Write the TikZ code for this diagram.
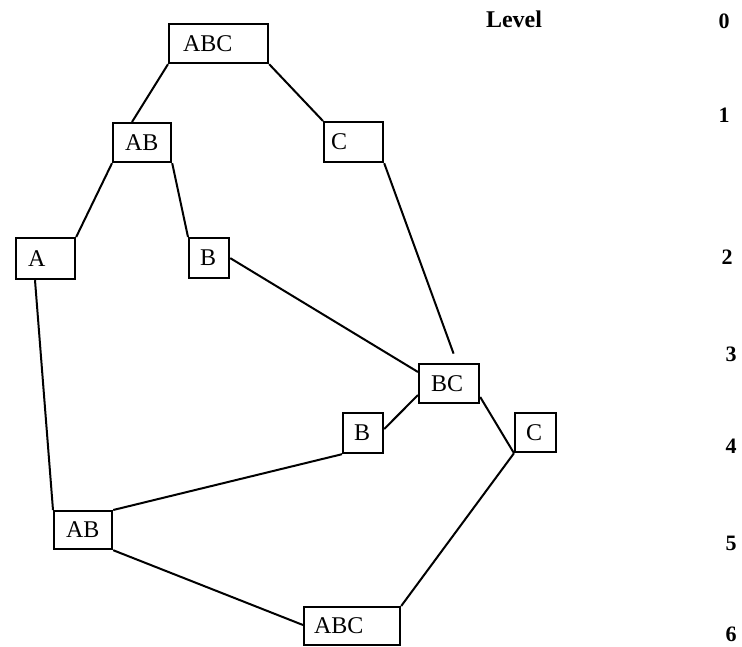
\documentclass[tikz,border=0pt]{standalone}
\usepackage{fontspec}
\setmainfont{Liberation Serif}
\usetikzlibrary{calc}
\tikzset{
  box/.style={draw, line width=2.2pt, inner ysep=0pt, anchor=north west,
              align=left, font=\fontsize{24}{24}\selectfont},
  link/.style={line width=2pt},
  lvl/.style={font=\fontsize{22}{22}\selectfont\bfseries, inner sep=0pt},
}
\begin{document}
\begin{tikzpicture}[x=1pt,y=-1pt]
\useasboundingbox (0,0) rectangle (742,646);

% level 0
\node[box, minimum height=39, text width=71, inner xsep=14] (abc1) at (168,23) {ABC};
% level 1
\node[box, minimum height=39, text width=34, inner xsep=12] (ab1) at (112,122) {AB};
\node[box, minimum height=40, text width=45, inner xsep=7] (c1) at (323,121) {C};
% level 2
\node[box, minimum height=41, text width=35, inner xsep=12] (a1) at (15,237) {A};
\node[box, minimum height=40, text width=18, inner xsep=11] (b1) at (188,237) {B};
% level 3
\node[box, minimum height=39, text width=36, inner xsep=12] (bc) at (418,363) {BC};
% level 4
\node[box, minimum height=40, text width=18, inner xsep=11] (b2) at (342,412) {B};
\node[box, minimum height=39, text width=19, inner xsep=11] (c2) at (514,412) {C};
% level 5
\node[box, minimum height=38, text width=34, inner xsep=12] (ab2) at (53,510) {AB};
% level 6
\node[box, minimum height=38, text width=76, inner xsep=10] (abc2) at (303,606) {ABC};

% connectors
\draw[link] (abc1.south west) -- ($(ab1.north west)+(20,0)$);
\draw[link] (abc1.south east) -- (c1.north west);
\draw[link] (ab1.south west) -- (a1.north east);
\draw[link] (ab1.south east) -- (b1.north west);
\draw[link] (b1.east) -- ($(bc.north west)+(0,9)$);
\draw[link, shorten >=10pt] (c1.south east) -- ($(bc.north west)+(39,0)$);
\draw[link] ($(bc.north west)+(0,32)$) -- ($(b2.north east)+(0,17)$);
\draw[link] ($(bc.north east)+(0,34)$) -- (c2.south west);
\draw[link] (b2.south west) -- (ab2.north east);
\draw[link] ($(a1.south west)+(20,0)$) -- (ab2.north west);
\draw[link] (ab2.south east) -- ($(abc2.north west)+(0,19)$);
\draw[link] (c2.south west) -- (abc2.north east);

% level scale
\node[lvl, font=\fontsize{24}{24}\selectfont\bfseries] (lvlhead) at (514,19) {Level};
\node[lvl] (l0) at (724,21) {0};
\node[lvl] (l1) at (724,115) {1};
\node[lvl] (l2) at (727,257) {2};
\node[lvl] (l3) at (731,354) {3};
\node[lvl] (l4) at (731,446) {4};
\node[lvl] (l5) at (731,543) {5};
\node[lvl] (l6) at (731,634) {6};
\end{tikzpicture}
\end{document}
